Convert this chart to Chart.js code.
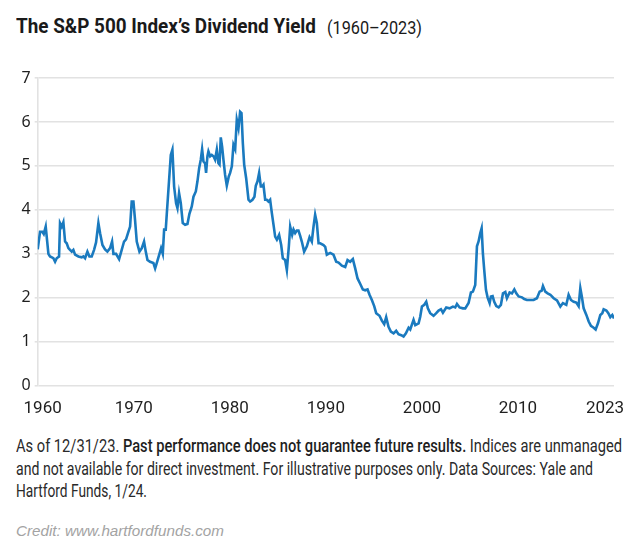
<!DOCTYPE html>
<html>
<head>
<meta charset="utf-8">
<script src="https://cdn.jsdelivr.net/npm/chart.js@4"></script>
<style>
  body { margin: 0; background: #fff; width: 640px; height: 553px; position: relative; overflow: hidden; font-family: Roboto, "Liberation Sans", sans-serif; }
  .fit { display: inline-block; white-space: nowrap; transform-origin: 0 0; }
  #title { position: absolute; left: 16px; top: 14px; color: #1a1a1a; white-space: nowrap; }
  #title .main { font-size: 21px; font-weight: bold; }
  #title .sub { position: absolute; left: 311px; top: 3px; font-size: 18px; }
  #wrap { position: absolute; left: 0; top: 60px; width: 640px; height: 360px; }
  #note { position: absolute; left: 16px; top: 435px; font-size: 18px; line-height: 22.5px; color: #2a2a2a; }
  #note .line { display: block; height: 22.5px; }
  #note b { font-weight: 500; color: #1e1e1e; }
  #credit { position: absolute; left: 16px; top: 522px; font-family: "Liberation Sans", Arial, sans-serif; font-style: italic; font-size: 15px; color: #a3a3a3; }
</style>
</head>
<body>
<div id="title"><span class="fit main" data-w="300">The S&amp;P 500 Index’s Dividend Yield</span><span class="fit sub" data-w="95">(1960–2023)</span></div>
<div id="wrap"><canvas id="yieldChart"></canvas></div>
<div id="note">
  <div class="line"><span class="fit" data-w="606">As of 12/31/23. <b>Past performance does not guarantee future results.</b> Indices are unmanaged</span></div>
  <div class="line"><span class="fit" data-w="577">and not available for direct investment. For illustrative purposes only. Data Sources: Yale and</span></div>
  <div class="line"><span class="fit" data-w="131">Hartford Funds, 1/24.</span></div>
</div>
<div id="credit"><span class="fit" data-w="208">Credit: www.hartfordfunds.com</span></div>
<script>
// time of each reading (decimal year) and the dividend yield (%)
const years = [
  1960.00, 1960.26, 1960.52, 1960.67, 1960.89, 1961.19, 1961.37, 1961.74, 1961.93, 1962.11,
  1962.37, 1962.48, 1962.67, 1962.85, 1963.04, 1963.22, 1963.41, 1963.59, 1963.78, 1963.96,
  1964.15, 1964.52, 1964.89, 1965.07, 1965.26, 1965.52, 1965.74, 1966.00, 1966.26, 1966.48,
  1966.74, 1966.93, 1967.19, 1967.48, 1967.74, 1968.04, 1968.26, 1968.41, 1968.70, 1969.04,
  1969.33, 1969.59, 1969.81, 1970.07, 1970.26, 1970.44, 1970.63, 1970.81, 1971.00, 1971.30,
  1971.56, 1971.81, 1972.00, 1972.19, 1972.48, 1972.85, 1973.04, 1973.22, 1973.52, 1973.70,
  1973.89, 1974.04, 1974.22, 1974.33, 1974.78, 1974.96, 1975.15, 1975.37, 1975.52, 1975.70,
  1975.89, 1976.11, 1976.37, 1976.63, 1976.85, 1977.11, 1977.30, 1977.56, 1977.74, 1977.93,
  1978.11, 1978.26, 1978.41, 1978.59, 1978.70, 1978.85, 1978.96, 1979.15, 1979.33, 1979.52,
  1979.70, 1979.89, 1980.07, 1980.19, 1980.33, 1980.48, 1980.63, 1980.81, 1981.00, 1981.22,
  1981.37, 1981.56, 1981.74, 1981.93, 1982.11, 1982.30, 1982.48, 1982.63, 1982.78, 1982.93,
  1983.15, 1983.41, 1983.59, 1983.85, 1984.07, 1984.22, 1984.41, 1984.59, 1984.78, 1984.93,
  1985.07, 1985.26, 1985.44, 1985.63, 1985.81, 1986.00, 1986.19, 1986.37, 1986.56, 1986.81,
  1987.04, 1987.22, 1987.48, 1987.67, 1987.89, 1988.04, 1988.26, 1988.41, 1988.59, 1988.78,
  1988.96, 1989.15, 1989.33, 1989.59, 1989.89, 1990.19, 1990.44, 1990.63, 1990.81, 1991.00,
  1991.19, 1991.37, 1991.74, 1991.93, 1992.11, 1992.48, 1992.85, 1993.15, 1993.41, 1993.78,
  1994.15, 1994.41, 1994.70, 1995.00, 1995.26, 1995.52, 1995.81, 1996.11, 1996.37, 1996.63,
  1996.85, 1997.11, 1997.37, 1997.59, 1997.96, 1998.22, 1998.48, 1998.70, 1998.96, 1999.22,
  1999.52, 1999.81, 2000.07, 2000.37, 2000.63, 2000.89, 2001.19, 2001.37, 2001.74, 2001.93,
  2002.30, 2002.48, 2002.67, 2002.93, 2003.15, 2003.33, 2003.59, 2003.96, 2004.26, 2004.52,
  2004.78, 2005.00, 2005.37, 2005.74, 2006.11, 2006.37, 2006.56, 2006.85, 2007.22, 2007.48,
  2007.85, 2008.11, 2008.33, 2008.59, 2008.78, 2008.96, 2009.15, 2009.30, 2009.44, 2009.59,
  2009.78, 2009.96, 2010.19, 2010.33, 2010.52, 2010.70, 2010.93, 2011.19, 2011.44, 2011.67,
  2011.93, 2012.11, 2012.41, 2012.67, 2012.93, 2013.15, 2013.41, 2013.78, 2014.04, 2014.33,
  2014.70, 2015.07, 2015.44, 2015.74, 2015.96, 2016.11, 2016.37, 2016.63, 2016.93, 2017.30,
  2017.67, 2018.04, 2018.33, 2018.70, 2018.96, 2019.22, 2019.52, 2019.81, 2020.07, 2020.26,
  2020.44, 2020.63, 2020.93, 2021.19, 2021.44, 2021.74, 2021.96, 2022.22, 2022.48, 2022.70,
  2022.85, 2023.15, 2023.37, 2023.59, 2023.81, 2024.00
];
const yields = [
  3.10, 3.50, 3.50, 3.45, 3.62, 3.00, 2.94, 2.90, 2.82, 2.90,
  2.94, 3.70, 3.62, 3.72, 3.28, 3.24, 3.13, 3.09, 3.05, 3.09,
  2.98, 2.94, 2.92, 2.94, 2.90, 3.05, 2.94, 2.94, 3.09, 3.26,
  3.70, 3.47, 3.20, 3.10, 3.05, 3.13, 3.28, 3.00, 3.00, 2.88,
  3.09, 3.28, 3.33, 3.50, 3.62, 4.19, 4.19, 3.77, 3.28, 3.05,
  3.13, 3.28, 3.05, 2.86, 2.82, 2.79, 2.67, 2.79, 3.00, 3.13,
  3.00, 3.55, 3.55, 3.89, 5.25, 5.37, 4.53, 4.15, 4.04, 4.38,
  4.15, 3.70, 3.66, 3.68, 3.91, 4.08, 4.30, 4.42, 4.65, 4.95,
  5.14, 5.38, 5.10, 5.06, 4.84, 5.22, 5.33, 5.22, 5.25, 5.22,
  5.14, 5.37, 5.06, 5.03, 5.65, 5.44, 5.14, 4.80, 4.55, 4.76,
  4.84, 4.99, 5.48, 5.38, 6.05, 5.86, 6.23, 6.20, 5.52, 5.03,
  4.72, 4.23, 4.19, 4.23, 4.30, 4.55, 4.65, 4.84, 4.53, 4.53,
  4.57, 4.23, 4.23, 4.19, 4.23, 3.93, 3.66, 3.39, 3.32, 3.43,
  3.20, 2.90, 2.86, 2.63, 3.17, 3.62, 3.43, 3.55, 3.47, 3.53,
  3.53, 3.41, 3.28, 3.05, 3.17, 3.38, 3.28, 3.62, 3.89, 3.70,
  3.24, 3.24, 3.20, 3.16, 2.98, 3.02, 2.98, 2.82, 2.80, 2.73,
  2.70, 2.86, 2.82, 2.88, 2.67, 2.44, 2.32, 2.19, 2.17, 2.19,
  2.07, 1.95, 1.81, 1.65, 1.59, 1.48, 1.40, 1.56, 1.34, 1.23,
  1.19, 1.25, 1.17, 1.15, 1.12, 1.19, 1.32, 1.28, 1.50, 1.38,
  1.42, 1.57, 1.80, 1.84, 1.91, 1.76, 1.65, 1.59, 1.65, 1.71,
  1.74, 1.66, 1.78, 1.76, 1.80, 1.78, 1.86, 1.78, 1.76, 1.76,
  1.88, 2.12, 2.14, 2.29, 3.17, 3.28, 3.47, 3.58, 3.01, 2.63,
  2.18, 2.01, 1.88, 2.03, 2.04, 1.91, 1.81, 1.78, 1.84, 2.10,
  2.13, 1.99, 2.12, 2.10, 2.19, 2.10, 2.03, 2.01, 1.97, 1.95,
  1.95, 1.95, 1.99, 2.14, 2.16, 2.27, 2.14, 2.10, 2.07, 1.99,
  1.94, 1.80, 1.88, 1.84, 2.07, 1.95, 1.91, 1.89, 1.81, 2.22,
  2.01, 1.76, 1.61, 1.46, 1.36, 1.32, 1.28, 1.42, 1.61, 1.65,
  1.74, 1.71, 1.65, 1.56, 1.61, 1.53
];
// x-axis labels and where they sit on the year axis
const xTickLabels = ["1960", "1970", "1980", "1990", "2000", "2010", "2023"];
const xTickAt = [1960.55, 1970.67, 1981.33, 1992, 2002.67, 2013.33, 2023];
const yTicks = [0, 1, 2, 3, 4, 5, 6, 7];

// squeeze the html text lines to the widths they have in the original
document.querySelectorAll(".fit").forEach(el => {
  const w = el.getBoundingClientRect().width;
  el.style.transform = `scaleX(${el.dataset.w / w})`;
});

const ctx = document.getElementById("yieldChart").getContext("2d");
const chart = new Chart(ctx, {
  type: "line",
  data: {
    datasets: [{
      data: years.map((y, i) => ({ x: y, y: yields[i] })),
      borderColor: "#1a7abf",
      borderWidth: 2.6,
      pointRadius: 0,
      tension: 0,
      fill: false
    }]
  },
  options: {
    responsive: true,
    maintainAspectRatio: false,
    animation: false,
    events: [],
    layout: { padding: { left: 0, right: 26, top: 18, bottom: 0 } },
    plugins: { legend: { display: false }, tooltip: { enabled: false } },
    scales: {
      x: {
        type: "linear",
        min: 1960,
        max: 2024,
        grid: { display: false, drawTicks: false },
        border: { display: false },
        afterBuildTicks: s => { s.ticks = xTickAt.map(v => ({ value: v })); },
        afterFit: s => { s.height = 34.3; },
        ticks: {
          autoSkip: false,
          maxRotation: 0,
          padding: 13,
          color: "#1f1f1f",
          font: { family: "Roboto, 'Liberation Sans', sans-serif", size: 17 },
          callback: (v, i) => xTickLabels[i]
        }
      },
      y: {
        min: 0,
        max: 7,
        afterBuildTicks: s => { s.ticks = yTicks.map(v => ({ value: v })); },
        afterFit: s => { s.width = 37.7; },
        grid: { color: "#e2e2e2", lineWidth: 1.6, tickLength: 3 },
        border: { display: true, color: "#e2e2e2", width: 1.6 },
        ticks: {
          padding: 4,
          color: "#1f1f1f",
          font: { family: "'Noto Sans', 'Open Sans', sans-serif", size: 16 }
        }
      }
    }
  }
});
</script>
</body>
</html>
